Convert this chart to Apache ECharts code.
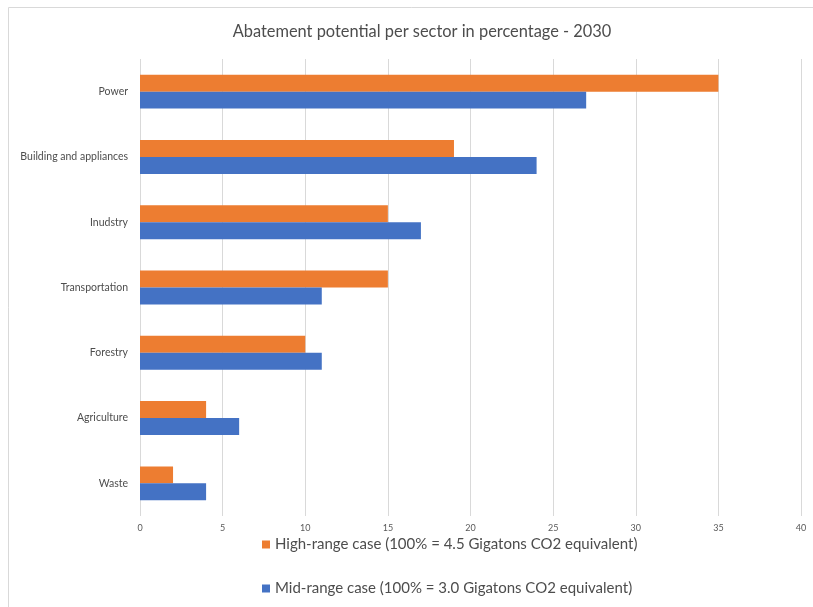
<!DOCTYPE html>
<html><head><meta charset="utf-8">
<script src="https://cdn.jsdelivr.net/npm/echarts@6/dist/echarts.min.js"></script>
<style>html,body{margin:0;padding:0;background:#fff}#c{width:813px;height:607px}</style>
</head><body><div id="c"></div>
<script>
var categories = ['Power','Building and appliances','Inudstry','Transportation','Forestry','Agriculture','Waste'];
var highRange = [35,19,15,15,10,4,2];
var midRange = [27,24,17,11,11,6,4];
var xTicks = {min:0, max:40, interval:5};
var titleText = 'Abatement potential per sector in percentage - 2030';
var highName = 'High-range case (100% = 4.5 Gigatons CO2 equivalent)';
var midName = 'Mid-range case (100% = 3.0 Gigatons CO2 equivalent)';

var chart = echarts.init(document.getElementById('c'));
var FONT = 'Lato';
chart.setOption({
  animation:false,
  textStyle:{fontFamily:FONT},
  title:{text:titleText,left:417,top:19,textAlign:'center',
    textStyle:{fontSize:16.4,fontWeight:'normal',color:'#4d4d4d',fontFamily:FONT}},
  graphic:[{type:'rect',shape:{x:8.5,y:7.5,width:900,height:700},
    style:{fill:'none',stroke:'#d9d9d9',lineWidth:1},silent:true}],
  legend:{orient:'vertical',left:262,top:537,padding:0,itemGap:29,itemWidth:8,itemHeight:8,
    icon:'rect',textStyle:{fontSize:15,color:'#4d4d4d',fontFamily:FONT},
    data:[highName,midName]},
  grid:{left:140,right:12,top:59,bottom:91,containLabel:false},
  xAxis:{type:'value',min:xTicks.min,max:xTicks.max,interval:xTicks.interval,
    axisLine:{show:false},axisTick:{show:false},
    axisLabel:{fontSize:9,color:'#595959',margin:8},
    splitLine:{lineStyle:{color:'#d9d9d9',width:1}}},
  yAxis:{type:'category',data:categories,inverse:true,
    axisLine:{show:false},axisTick:{show:false},
    axisLabel:{fontSize:10.5,color:'#4d4d4d',margin:12}},
  series:[
    {name:highName,type:'bar',data:highRange,itemStyle:{color:'#ED7D31'},barGap:'0%',barCategoryGap:'48%'},
    {name:midName,type:'bar',data:midRange,itemStyle:{color:'#4472C4'},barGap:'0%',barCategoryGap:'48%'}
  ]
});
</script></body></html>
